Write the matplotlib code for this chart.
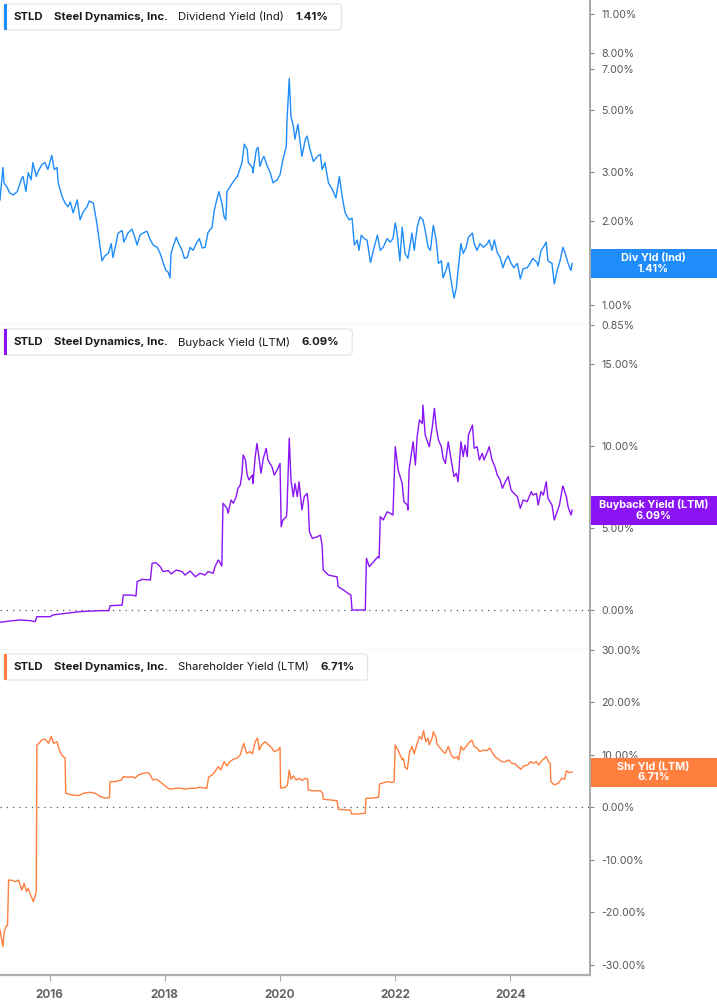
import matplotlib
matplotlib.use("Agg")
import matplotlib.pyplot as plt
from matplotlib.ticker import FixedLocator, FuncFormatter, NullLocator
from matplotlib.patches import FancyBboxPatch, Rectangle
from matplotlib.transforms import IdentityTransform

# ---------------- DATA ----------------
div_years = [2015.14, 2015.19, 2015.21, 2015.26, 2015.31, 2015.37, 2015.44, 2015.52, 2015.54, 2015.59,
             2015.63, 2015.68, 2015.71, 2015.77, 2015.80, 2015.87, 2015.92, 2015.97, 2016.04, 2016.08,
             2016.13, 2016.15, 2016.22, 2016.27, 2016.32, 2016.36, 2016.41, 2016.48, 2016.53, 2016.58,
             2016.65, 2016.69, 2016.76, 2016.79, 2016.82, 2016.86, 2016.91, 2016.96, 2017.02, 2017.07,
             2017.10, 2017.14, 2017.19, 2017.26, 2017.29, 2017.36, 2017.43, 2017.48, 2017.52, 2017.57,
             2017.62, 2017.69, 2017.75, 2017.80, 2017.87, 2017.92, 2017.97, 2018.02, 2018.06, 2018.09,
             2018.11, 2018.14, 2018.20, 2018.23, 2018.30, 2018.34, 2018.39, 2018.44, 2018.49, 2018.56,
             2018.60, 2018.65, 2018.70, 2018.75, 2018.82, 2018.86, 2018.91, 2018.94, 2018.99, 2019.03,
             2019.06, 2019.08, 2019.13, 2019.19, 2019.26, 2019.29, 2019.34, 2019.38, 2019.43, 2019.45,
             2019.52, 2019.53, 2019.59, 2019.62, 2019.65, 2019.69, 2019.72, 2019.78, 2019.83, 2019.88,
             2019.95, 2020.00, 2020.05, 2020.11, 2020.12, 2020.16, 2020.19, 2020.23, 2020.26, 2020.31,
             2020.38, 2020.44, 2020.47, 2020.52, 2020.58, 2020.65, 2020.70, 2020.73, 2020.78, 2020.84,
             2020.91, 2020.97, 2021.03, 2021.08, 2021.13, 2021.20, 2021.25, 2021.29, 2021.34, 2021.37,
             2021.41, 2021.46, 2021.51, 2021.57, 2021.62, 2021.69, 2021.74, 2021.79, 2021.86, 2021.91,
             2021.96, 2022.00, 2022.03, 2022.08, 2022.12, 2022.17, 2022.22, 2022.29, 2022.33, 2022.38,
             2022.43, 2022.48, 2022.52, 2022.57, 2022.61, 2022.66, 2022.71, 2022.75, 2022.80, 2022.83,
             2022.88, 2022.92, 2022.97, 2023.02, 2023.06, 2023.09, 2023.14, 2023.18, 2023.23, 2023.27,
             2023.34, 2023.37, 2023.42, 2023.47, 2023.53, 2023.60, 2023.63, 2023.68, 2023.72, 2023.77,
             2023.82, 2023.87, 2023.91, 2023.96, 2024.01, 2024.06, 2024.12, 2024.17, 2024.22, 2024.29,
             2024.34, 2024.39, 2024.46, 2024.48, 2024.53, 2024.57, 2024.62, 2024.65, 2024.72, 2024.76,
             2024.81, 2024.86, 2024.91, 2024.95, 2025.00, 2025.05, 2025.07]
div_vals = [2.38, 3.11, 2.74, 2.65, 2.52, 2.48, 2.55, 2.86, 2.89, 2.55,
            2.98, 2.81, 3.24, 2.89, 3.01, 3.19, 3.24, 3.06, 3.44, 3.06,
            3.11, 2.74, 2.44, 2.32, 2.25, 2.34, 2.14, 2.38, 2.02, 2.15,
            2.25, 2.36, 2.32, 2.14, 1.97, 1.71, 1.44, 1.50, 1.53, 1.66,
            1.48, 1.61, 1.81, 1.85, 1.68, 1.81, 1.87, 1.75, 1.64, 1.78,
            1.81, 1.84, 1.71, 1.64, 1.61, 1.53, 1.42, 1.33, 1.31, 1.25,
            1.53, 1.61, 1.75, 1.68, 1.57, 1.47, 1.48, 1.61, 1.57, 1.68,
            1.73, 1.60, 1.61, 1.82, 1.90, 2.19, 2.42, 2.55, 2.32, 2.07,
            2.02, 2.55, 2.65, 2.77, 2.89, 3.01, 3.24, 3.77, 3.61, 3.24,
            3.11, 2.98, 3.61, 3.67, 3.14, 3.32, 3.41, 3.14, 2.98, 2.74,
            2.81, 2.93, 3.32, 3.71, 4.53, 6.48, 4.76, 4.38, 3.93, 4.45,
            3.41, 3.93, 4.03, 3.61, 3.27, 3.41, 3.47, 3.06, 3.24, 2.74,
            2.59, 2.42, 2.89, 2.44, 2.14, 2.02, 2.05, 1.64, 1.71, 1.57,
            1.78, 1.73, 1.71, 1.42, 1.57, 1.78, 1.57, 1.61, 1.73, 1.68,
            1.73, 1.97, 1.82, 1.44, 1.90, 1.53, 1.47, 1.81, 1.57, 1.90,
            2.07, 2.02, 1.85, 1.61, 1.57, 1.93, 1.71, 1.41, 1.44, 1.25,
            1.33, 1.42, 1.22, 1.06, 1.15, 1.33, 1.66, 1.53, 1.61, 1.75,
            1.81, 1.66, 1.57, 1.66, 1.61, 1.66, 1.71, 1.57, 1.71, 1.54,
            1.48, 1.36, 1.44, 1.50, 1.41, 1.36, 1.41, 1.24, 1.35, 1.36,
            1.41, 1.47, 1.42, 1.38, 1.57, 1.61, 1.68, 1.44, 1.41, 1.19,
            1.33, 1.44, 1.61, 1.53, 1.41, 1.33, 1.41]

bb_years = [2015.14, 2015.31, 2015.49, 2015.66, 2015.75, 2015.78, 2016.01, 2016.06, 2016.30, 2016.53,
            2016.88, 2017.03, 2017.05, 2017.26, 2017.28, 2017.43, 2017.50, 2017.52, 2017.61, 2017.75,
            2017.78, 2017.85, 2017.92, 2017.97, 2018.06, 2018.11, 2018.20, 2018.30, 2018.35, 2018.44,
            2018.53, 2018.61, 2018.70, 2018.75, 2018.84, 2018.87, 2018.93, 2018.99, 2019.01, 2019.08,
            2019.10, 2019.15, 2019.19, 2019.24, 2019.27, 2019.31, 2019.34, 2019.36, 2019.40, 2019.43,
            2019.46, 2019.52, 2019.53, 2019.57, 2019.60, 2019.64, 2019.67, 2019.71, 2019.76, 2019.79,
            2019.86, 2019.90, 2019.95, 2020.00, 2020.02, 2020.05, 2020.11, 2020.12, 2020.16, 2020.19,
            2020.23, 2020.26, 2020.30, 2020.33, 2020.38, 2020.42, 2020.47, 2020.49, 2020.51, 2020.56,
            2020.65, 2020.70, 2020.73, 2020.75, 2020.84, 2020.92, 2020.99, 2021.01, 2021.10, 2021.18,
            2021.23, 2021.25, 2021.48, 2021.50, 2021.55, 2021.65, 2021.70, 2021.72, 2021.74, 2021.79,
            2021.86, 2021.91, 2021.96, 2022.00, 2022.05, 2022.12, 2022.15, 2022.21, 2022.22, 2022.24,
            2022.31, 2022.35, 2022.38, 2022.42, 2022.47, 2022.48, 2022.52, 2022.55, 2022.59, 2022.64,
            2022.68, 2022.71, 2022.75, 2022.80, 2022.83, 2022.87, 2022.92, 2022.97, 2023.02, 2023.06,
            2023.09, 2023.14, 2023.18, 2023.21, 2023.25, 2023.27, 2023.34, 2023.37, 2023.42, 2023.46,
            2023.51, 2023.54, 2023.60, 2023.63, 2023.68, 2023.73, 2023.77, 2023.82, 2023.86, 2023.91,
            2023.96, 2024.01, 2024.06, 2024.12, 2024.17, 2024.22, 2024.29, 2024.36, 2024.39, 2024.45,
            2024.48, 2024.53, 2024.57, 2024.62, 2024.65, 2024.72, 2024.76, 2024.81, 2024.85, 2024.90,
            2024.91, 2024.97, 2025.00, 2025.05, 2025.07]
bb_vals = [-0.75, -0.67, -0.61, -0.65, -0.71, -0.41, -0.41, -0.30, -0.20, -0.10,
           -0.04, -0.04, 0.26, 0.30, 0.91, 0.91, 0.85, 1.73, 1.87, 1.83,
           2.85, 2.88, 2.64, 2.34, 2.40, 2.20, 2.44, 2.34, 2.13, 2.38,
           2.03, 2.24, 2.13, 2.34, 2.24, 2.64, 3.05, 2.68, 6.51, 6.20,
           5.90, 6.71, 6.51, 6.91, 7.42, 7.62, 8.34, 9.45, 9.15, 8.23,
           7.93, 8.23, 7.72, 9.35, 10.16, 9.15, 8.34, 9.25, 9.86, 9.15,
           8.74, 8.23, 8.54, 8.94, 5.08, 5.49, 5.69, 6.10, 10.47, 7.93,
           6.91, 7.72, 6.91, 7.82, 6.10, 6.91, 7.11, 6.51, 4.78, 4.37,
           4.47, 4.57, 3.96, 2.44, 2.13, 2.07, 2.03, 1.42, 1.22, 1.02,
           0.91, 0.00, 0.00, 3.15, 2.64, 3.05, 3.25, 3.17, 5.69, 5.49,
           5.99, 5.90, 5.79, 9.96, 8.54, 7.72, 6.61, 6.40, 6.10, 8.54,
           10.26, 8.84, 10.57, 11.59, 11.38, 12.50, 10.67, 10.37, 9.96, 11.08,
           12.30, 11.18, 10.37, 9.96, 9.25, 8.94, 10.26, 9.15, 8.13, 8.34,
           7.82, 10.26, 9.35, 10.06, 9.35, 10.67, 11.28, 9.86, 9.96, 9.15,
           9.55, 9.15, 9.65, 9.96, 9.15, 8.74, 8.23, 7.93, 7.42, 7.82,
           8.13, 7.32, 7.11, 6.91, 6.20, 6.71, 6.61, 7.21, 7.01, 7.11,
           6.40, 7.21, 7.01, 7.82, 6.81, 6.40, 5.49, 5.99, 6.40, 7.42,
           7.56, 6.91, 6.30, 5.79, 6.09]

sy_years = [2015.14, 2015.17, 2015.19, 2015.21, 2015.24, 2015.27, 2015.29, 2015.34, 2015.40, 2015.46,
            2015.52, 2015.56, 2015.60, 2015.63, 2015.67, 2015.72, 2015.77, 2015.78, 2015.82, 2015.86,
            2015.92, 2015.98, 2016.03, 2016.07, 2016.13, 2016.17, 2016.21, 2016.27, 2016.28, 2016.39,
            2016.50, 2016.59, 2016.70, 2016.79, 2016.88, 2016.96, 2017.04, 2017.05, 2017.14, 2017.25,
            2017.28, 2017.37, 2017.44, 2017.48, 2017.54, 2017.63, 2017.71, 2017.75, 2017.79, 2017.86,
            2017.95, 2018.02, 2018.09, 2018.18, 2018.27, 2018.35, 2018.44, 2018.53, 2018.60, 2018.73,
            2018.76, 2018.82, 2018.87, 2018.93, 2018.97, 2019.03, 2019.08, 2019.13, 2019.19, 2019.25,
            2019.31, 2019.37, 2019.42, 2019.48, 2019.52, 2019.57, 2019.61, 2019.64, 2019.68, 2019.74,
            2019.80, 2019.86, 2019.90, 2019.96, 2020.00, 2020.01, 2020.09, 2020.13, 2020.16, 2020.19,
            2020.23, 2020.28, 2020.34, 2020.38, 2020.44, 2020.48, 2020.49, 2020.58, 2020.70, 2020.74,
            2020.75, 2020.87, 2020.99, 2021.01, 2021.13, 2021.22, 2021.24, 2021.33, 2021.48, 2021.49,
            2021.59, 2021.71, 2021.73, 2021.80, 2021.88, 2021.94, 2021.98, 2022.00, 2022.06, 2022.12,
            2022.14, 2022.17, 2022.21, 2022.25, 2022.29, 2022.33, 2022.38, 2022.42, 2022.46, 2022.49,
            2022.53, 2022.57, 2022.59, 2022.64, 2022.66, 2022.71, 2022.73, 2022.78, 2022.83, 2022.87,
            2022.92, 2022.97, 2023.02, 2023.07, 2023.10, 2023.14, 2023.18, 2023.23, 2023.27, 2023.33,
            2023.37, 2023.42, 2023.47, 2023.53, 2023.59, 2023.64, 2023.69, 2023.73, 2023.79, 2023.85,
            2023.91, 2023.97, 2024.02, 2024.08, 2024.14, 2024.18, 2024.23, 2024.30, 2024.35, 2024.40,
            2024.45, 2024.49, 2024.53, 2024.56, 2024.62, 2024.66, 2024.69, 2024.70, 2024.76, 2024.83,
            2024.89, 2024.94, 2024.97, 2025.01, 2025.07]
sy_vals = [-23.4, -25.3, -26.6, -24.0, -22.8, -22.5, -13.9, -13.9, -14.2, -13.9,
           -15.8, -14.5, -16.1, -15.5, -16.7, -18.0, -16.1, 11.9, 12.2, 12.8,
           13.0, 12.2, 13.5, 12.2, 12.5, 10.9, 10.0, 9.35, 2.67, 2.35,
           2.21, 2.67, 2.86, 2.67, 2.02, 1.77, 1.83, 4.89, 4.89, 5.21,
           5.84, 5.73, 5.84, 5.53, 6.16, 6.49, 6.60, 6.16, 5.21, 5.34,
           4.58, 3.93, 3.44, 3.63, 3.63, 3.44, 3.63, 3.63, 3.82, 3.63,
           5.73, 6.16, 6.79, 7.75, 7.12, 8.70, 7.88, 8.70, 9.16, 9.35,
           9.98, 12.2, 10.3, 10.6, 10.2, 12.5, 13.2, 10.9, 11.9, 12.5,
           11.9, 11.3, 10.6, 10.9, 11.4, 3.63, 3.82, 4.26, 7.12, 5.34,
           5.97, 5.21, 5.53, 5.08, 5.53, 5.34, 3.30, 3.11, 3.17, 2.67,
           1.53, 1.39, 1.26, -0.38, -0.52, -0.52, -1.28, -1.28, -1.15, 1.72,
           1.72, 1.91, 4.45, 4.70, 4.89, 4.70, 4.89, 11.9, 10.6, 9.03,
           9.35, 7.63, 7.25, 10.6, 11.6, 10.2, 12.2, 13.5, 13.0, 14.6,
           12.5, 13.2, 11.9, 13.2, 14.4, 13.2, 11.9, 11.3, 10.6, 10.3,
           11.6, 9.98, 9.35, 9.66, 9.03, 11.6, 10.9, 11.6, 12.2, 12.8,
           11.6, 11.3, 10.6, 10.9, 10.8, 11.3, 10.3, 9.66, 9.16, 8.70,
           8.70, 9.03, 8.40, 8.26, 7.63, 7.25, 7.88, 8.07, 8.70, 8.40,
           8.70, 8.07, 8.70, 9.03, 9.66, 8.70, 8.40, 4.89, 4.26, 4.58,
           5.53, 5.34, 6.98, 6.60, 6.71]

year_ticks = [2016, 2018, 2020, 2022, 2024]
div_ticks = [0.85, 1, 2, 3, 5, 7, 8, 11]
bb_ticks = [0, 5, 10, 15]
sy_ticks = [-30, -20, -10, 0, 10, 20, 30]

ticker = "STLD"
company = "Steel Dynamics, Inc."
series_names = ["Dividend Yield (Ind)", "Buyback Yield (LTM)", "Shareholder Yield (LTM)"]
short_names = ["Div Yld (Ind)", "Buyback Yield (LTM)", "Shr Yld (LTM)"]
last_vals = [1.41, 6.09, 6.71]
colors = ["#1E8CFA", "#8A14F5", "#FF7F3F"]

# ---------------- LAYOUT ----------------
W, H, DPI = 717, 1005, 100
plt.rcParams['font.family'] = ['Inter', 'DejaVu Sans']
fig = plt.figure(figsize=(W / DPI, H / DPI), dpi=DPI)
fig.patch.set_facecolor("white")
ID = IdentityTransform()

AX_RIGHT = 590
panels = [(0, 325), (325, 650), (650, 975)]
ylims = [(0.848, 12.39), (-2.44, 17.38), (-32.0, 30.0)]
xlim = (2015.14, 2025.38)

series = [(div_years, div_vals), (bb_years, bb_vals), (sy_years, sy_vals)]
tick_sets = [div_ticks, bb_ticks, sy_ticks]

axes = []
for i, (top, bot) in enumerate(panels):
    ax = fig.add_axes([0, 1 - bot / H, AX_RIGHT / W, (bot - top) / H])
    axes.append(ax)
    xs, ys = series[i]
    ax.plot(xs, ys, color=colors[i], lw=1.0, solid_joinstyle='round')
    if i == 0:
        ax.set_yscale('log')
    ax.set_xlim(*xlim)
    ax.set_ylim(*ylims[i])
    ax.yaxis.set_major_locator(FixedLocator(tick_sets[i]))
    ax.yaxis.set_minor_locator(NullLocator())
    ax.yaxis.set_major_formatter(FuncFormatter(lambda v, p: f"{v:.2f}%"))
    ax.yaxis.tick_right()
    ax.tick_params(axis='y', which='both', length=3, width=0.8, color='#888888',
                   labelsize=7.6, labelcolor='#555555', pad=5)
    for s in ['top', 'left']:
        ax.spines[s].set_visible(False)
    ax.spines['right'].set_color('#9a9a9a')
    ax.spines['right'].set_linewidth(1.2)
    if i < 2:
        ax.spines['bottom'].set_color('#d4d4d4')
        ax.spines['bottom'].set_linewidth(1.0)
        ax.set_xticks([])
    else:
        ax.spines['bottom'].set_color('#b0b0b0')
        ax.spines['bottom'].set_linewidth(1.6)
        ax.set_xticks(year_ticks)
        ax.set_xticklabels([str(y) for y in year_ticks])
        ax.tick_params(axis='x', length=4, width=0.8, color='#aaaaaa',
                       labelsize=8.5, labelcolor='#666666', pad=6)
        for lab in ax.get_xticklabels():
            lab.set_fontweight('bold')
    if i > 0:
        ax.axhline(0, color='#555555', lw=0.9, ls=(0, (1, 4)), zorder=1)

renderer = fig.canvas.get_renderer()

# ---------------- TITLE BOXES ----------------
for i, (top, bot) in enumerate(panels):
    parts = [(ticker, 'bold'), (company, 'bold'), (series_names[i], 'normal'),
             (f"{last_vals[i]:.2f}%", 'bold')]
    x = 13
    yc = H - (top + 17)
    for txt, wt in parts:
        t = fig.text(x, yc, txt, transform=ID, fontsize=8.2, fontweight=wt,
                     color='#1a1a1a', ha='left', va='center', zorder=5)
        x += t.get_window_extent(renderer).width + 11
    right = x - 11 + 13
    box = FancyBboxPatch((4, H - (top + 30)), right - 4, 26, transform=ID,
                         boxstyle='round,pad=0,rounding_size=3',
                         facecolor='white', edgecolor='#e2e2e2', lw=0.8, zorder=4)
    fig.add_artist(box)
    bar = Rectangle((4, H - (top + 30)), 3, 26, transform=ID,
                    facecolor=colors[i], edgecolor='none', zorder=4.5)
    fig.add_artist(bar)

# ---------------- LAST VALUE LABELS ----------------
for i, ax in enumerate(axes):
    disp = ax.transData.transform((xlim[0], last_vals[i]))
    yc = disp[1]
    rect = Rectangle((AX_RIGHT + 1, yc - 14.5), W - AX_RIGHT - 1, 29, transform=ID,
                     facecolor=colors[i], edgecolor='none', zorder=6)
    fig.add_artist(rect)
    fig.text((AX_RIGHT + W) / 2, yc, f"{short_names[i]}\n{last_vals[i]:.2f}%",
             transform=ID, ha='center', va='center', fontsize=7.8, fontweight='bold',
             color='white', linespacing=1.05, zorder=7)

fig.savefig("out.png", dpi=DPI, facecolor='white')
